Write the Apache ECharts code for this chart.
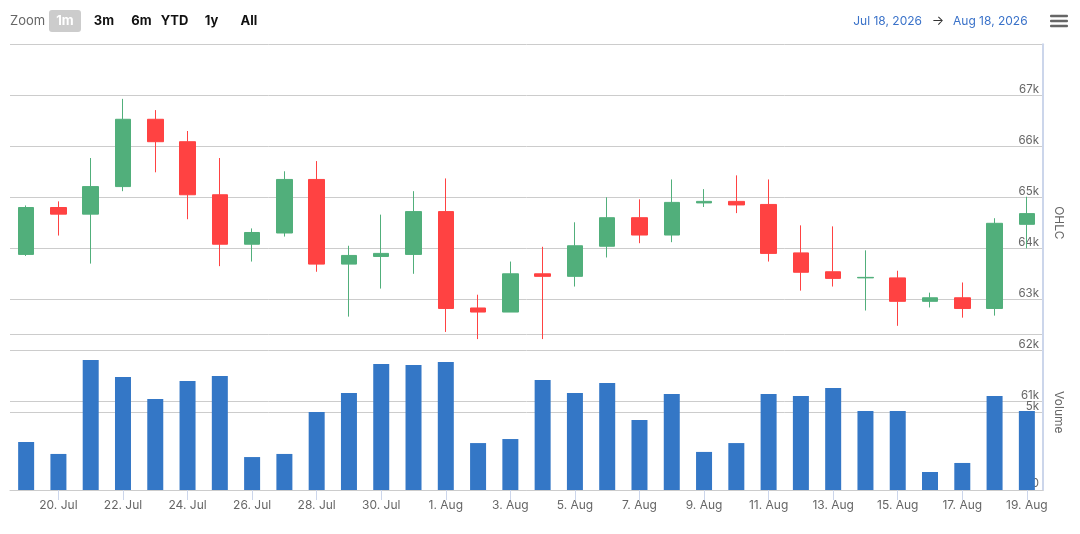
<!DOCTYPE html>
<html>
<head>
<meta charset="utf-8">
<script src="https://cdn.jsdelivr.net/npm/echarts@6/dist/echarts.min.js"></script>
<style>
html,body{margin:0;padding:0;background:#fff;}
#chart{width:1080px;height:534px;}
</style>
</head>
<body>
<div id="chart"></div>
<script>
const categories = ['19. Jul','20. Jul','21. Jul','22. Jul','23. Jul','24. Jul','25. Jul','26. Jul','27. Jul','28. Jul','29. Jul','30. Jul','31. Jul',
  '1. Aug','2. Aug','3. Aug','4. Aug','5. Aug','6. Aug','7. Aug','8. Aug','9. Aug','10. Aug','11. Aug','12. Aug','13. Aug','14. Aug','15. Aug','16. Aug','17. Aug','18. Aug','19. Aug'];
const openV  = [63880,64800,64670,65210,66530,66090,65050,64080,64300,65350,63690,63840,63880,64720,62830,62750,63500,63450,64040,64600,64260,64890,64920,64860,63910,63540,63420,63420,62960,63030,62820,64470];
const closeV = [64800,64670,65210,66530,66090,65050,64080,64310,65350,63690,63860,63900,64720,62820,62750,63500,63450,64050,64600,64260,64900,64920,64850,63900,63530,63410,63430,62960,63030,62820,64490,64680];
const lowV   = [63850,64250,63700,65120,65490,64570,63650,63740,64230,63540,62660,63210,63500,62360,62220,62750,62220,63250,63820,64100,64120,64810,64690,63740,63170,63250,62780,62480,62840,62640,62680,64000];
const highV  = [64840,64920,65770,66930,66710,66300,65770,64390,65510,65710,64050,64660,65120,65370,63090,63740,64030,64510,65000,64960,65350,65160,65430,65350,64450,64430,63960,63560,63130,63330,64590,65010];
const volumeV = [3090,2320,8370,7270,5860,7010,7340,2120,2320,5020,6240,8110,8040,8240,3020,3280,7080,6240,6890,4510,6180,2450,3020,6180,6050,6560,5080,5080,1160,1740,6050,5080];
const rangeButtons = ['1m','3m','6m','YTD','1y','All'];
const dateFrom = 'Jul 18, 2026';
const dateTo = 'Aug 18, 2026';

const FONT = 'Inter, "Noto Sans", sans-serif';
const ohlcData = categories.map((c, i) => [openV[i], closeV[i], lowV[i], highV[i]]);

const chart = echarts.init(document.getElementById('chart'), null, {renderer: 'canvas'});

const btnX = [65, 104, 141.5, 174.5, 211.5, 249];
const graphics = [
  {type:'text', x: 10, y: 21.5, style:{text:'Zoom', fill:'#666', font:'13px ' + FONT, verticalAlign:'middle'}},
  {type:'rect', shape:{x:49, y:10, width:32, height:22, r:3}, style:{fill:'#cccccc'}},
];
rangeButtons.forEach((b, i) => {
  graphics.push({type:'text', x: btnX[i], y: 21.5, style:{text:b, fill: i === 0 ? '#ffffff' : '#111', font:'bold 13px ' + FONT, align:'center', verticalAlign:'middle'}});
});
graphics.push({type:'text', x: 922, y: 21, style:{text: dateFrom, fill:'#3a72c9', font:'12px ' + FONT, align:'right', verticalAlign:'middle'}});
graphics.push({type:'text', x: 938, y: 21, style:{text: '\u2192', fill:'#333', font:'13px ' + FONT, align:'center', verticalAlign:'middle'}});
graphics.push({type:'text', x: 953, y: 21, style:{text: dateTo, fill:'#3a72c9', font:'12px ' + FONT, align:'left', verticalAlign:'middle'}});
[16, 21, 26].forEach(y => {
  graphics.push({type:'rect', shape:{x:1050, y:y-1.25, width:18, height:2.5, r:1}, style:{fill:'#666'}});
});

const option = {
  animation: false,
  backgroundColor: '#ffffff',
  textStyle: {fontFamily: FONT},
  graphic: graphics,
  grid: [
    {left: 10, right: 37, top: 44.3, height: 357},
    {left: 10, right: 37, top: 334.6, height: 155.4}
  ],
  xAxis: [
    {type:'category', gridIndex:0, data: categories, boundaryGap: true, show: false},
    {type:'category', gridIndex:1, data: categories, boundaryGap: true,
      axisLine:{show:true, lineStyle:{color:'#cccccc'}},
      axisTick:{show:true, alignWithLabel:true, length:10, interval:(i)=> i % 2 === 1, lineStyle:{color:'#ccd6eb'}},
      axisLabel:{interval:(i)=> i % 2 === 1, color:'#666', fontSize:12, margin:9, fontFamily: FONT},
      splitLine:{show:false}}
  ],
  yAxis: [
    {type:'value', gridIndex:0, position:'right', min:61000, max:68000, interval:1000,
      name:'OHLC', nameLocation:'middle', nameRotate:-90, nameGap:10,
      nameTextStyle:{color:'#666', fontSize:12, fontFamily: FONT},
      axisLine:{show:true, lineStyle:{color:'#ccd6eb', width:2}},
      axisTick:{show:false},
      axisLabel:{inside:true, margin:4, color:'#666', fontSize:11.5, verticalAlign:'bottom', padding:0, showMaxLabel:false,
        formatter:(v)=> (v/1000) + 'k'},
      splitLine:{show:true, lineStyle:{color:'#cccccc'}}},
    {type:'value', gridIndex:1, position:'right', min:0, max:10000, interval:5000,
      name:'Volume', nameLocation:'middle', nameRotate:-90, nameGap:10,
      nameTextStyle:{color:'#666', fontSize:12, fontFamily: FONT},
      axisLine:{show:true, lineStyle:{color:'#ccd6eb', width:2}},
      axisTick:{show:false},
      axisLabel:{inside:true, margin:4, color:'#666', fontSize:11.5, verticalAlign:'bottom', padding:0, showMaxLabel:false,
        formatter:(v)=> v === 0 ? '0' : (v/1000) + 'k'},
      splitLine:{show:true, lineStyle:{color:'#cccccc'}}}
  ],
  series: [
    {type:'candlestick', xAxisIndex:0, yAxisIndex:0, data: ohlcData, barWidth: 16,
      itemStyle:{color:'#51af7b', color0:'#ff4242', borderColor:'#51af7b', borderColor0:'#ff4242', borderWidth:1}},
    {type:'bar', xAxisIndex:1, yAxisIndex:1, data: volumeV, barWidth: 16,
      itemStyle:{color:'#3477c6'}}
  ]
};
chart.setOption(option);
</script>
</body>
</html>
